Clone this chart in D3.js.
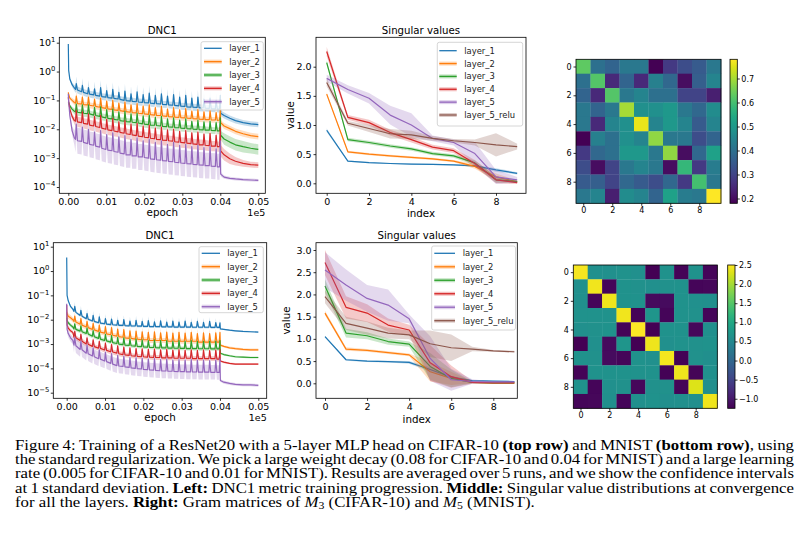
<!DOCTYPE html>
<html>
<head>
<meta charset="utf-8">
<script src="https://cdn.jsdelivr.net/npm/d3@7"></script>
<style>
  body { margin: 0; background: #fff; width: 810px; height: 535px; overflow: hidden; }
</style>
</head>
<body>
<svg id="fig" width="810" height="535"></svg>
<script>
// ---------- data ----------
var layerNames = ['layer_1', 'layer_2', 'layer_3', 'layer_4', 'layer_5'];
var svNames = ['layer_1', 'layer_2', 'layer_3', 'layer_4', 'layer_5', 'layer_5_relu'];

// epochs: start, 24 spikes (base, peak, base), the drop at 4000 and the tail
var epochs = [0, 10, 40, 100, 160,
  190, 210, 240, 350, 370, 400, 510, 530, 560, 670, 690, 720,
  830, 850, 880, 990, 1010, 1040, 1150, 1170, 1200, 1310, 1330, 1360,
  1470, 1490, 1520, 1630, 1650, 1680, 1790, 1810, 1840, 1950, 1970, 2000,
  2110, 2130, 2160, 2270, 2290, 2320, 2430, 2450, 2480, 2590, 2610, 2640,
  2750, 2770, 2800, 2910, 2930, 2960, 3070, 3090, 3120, 3230, 3250, 3280,
  3390, 3410, 3440, 3550, 3570, 3600, 3710, 3730, 3760, 3870, 3890, 3920,
  3980, 4000, 4010, 4100, 4250, 4400, 4600, 4800, 5000];
var epochTicks = [0, 1000, 2000, 3000, 4000, 5000];
var cifarLogTicks = [10, 1, 0.1, 0.01, 0.001, 0.0001];
var mnistLogTicks = [10, 1, 0.1, 0.01, 0.001, 0.0001, 0.00001];

// CIFAR-10 DNC1 (mean) per layer
var cifarDnc1 = [9, 1.1, 0.55, 0.35, 0.27,
  0.24, 0.38, 0.23, 0.2, 0.33, 0.19, 0.17, 0.28, 0.165, 0.155, 0.25, 0.15,
  0.14, 0.28, 0.135, 0.13, 0.22, 0.125, 0.12, 0.24, 0.117, 0.112, 0.19, 0.108,
  0.1, 0.21, 0.098, 0.095, 0.17, 0.093, 0.09, 0.2, 0.088, 0.086, 0.16, 0.084,
  0.082, 0.18, 0.08, 0.078, 0.15, 0.077, 0.075, 0.17, 0.073, 0.072, 0.14, 0.07,
  0.068, 0.16, 0.067, 0.065, 0.13, 0.063, 0.062, 0.15, 0.06, 0.059, 0.12, 0.058,
  0.057, 0.13, 0.056, 0.055, 0.11, 0.054, 0.053, 0.12, 0.052, 0.051, 0.1, 0.05,
  0.05, 0.15, 0.036, 0.03, 0.024, 0.02, 0.017, 0.0155, 0.0145];
var cifarDnc2 = [0.19, 0.16, 0.12, 0.1, 0.085,
  0.08, 0.14, 0.077, 0.075, 0.13, 0.072, 0.07, 0.13, 0.068, 0.064, 0.11, 0.062,
  0.058, 0.12, 0.056, 0.053, 0.095, 0.051, 0.049, 0.1, 0.047, 0.045, 0.08, 0.044,
  0.042, 0.088, 0.041, 0.039, 0.07, 0.038, 0.037, 0.078, 0.036, 0.035, 0.064, 0.034,
  0.033, 0.07, 0.032, 0.031, 0.056, 0.03, 0.03, 0.062, 0.029, 0.028, 0.05, 0.0275,
  0.027, 0.056, 0.0265, 0.026, 0.047, 0.0255, 0.025, 0.052, 0.0245, 0.024, 0.043, 0.0235,
  0.023, 0.048, 0.0225, 0.022, 0.04, 0.0215, 0.0215, 0.044, 0.021, 0.021, 0.038, 0.0205,
  0.021, 0.05, 0.017, 0.013, 0.0105, 0.0085, 0.007, 0.006, 0.0056];
var cifarDnc3 = [0.09, 0.085, 0.065, 0.05, 0.042,
  0.04, 0.075, 0.039, 0.037, 0.07, 0.036, 0.035, 0.07, 0.034, 0.031, 0.058, 0.03,
  0.028, 0.06, 0.027, 0.025, 0.048, 0.024, 0.023, 0.05, 0.022, 0.021, 0.04, 0.02,
  0.019, 0.042, 0.0185, 0.018, 0.034, 0.0175, 0.017, 0.036, 0.0165, 0.0155, 0.029, 0.015,
  0.0145, 0.031, 0.014, 0.0138, 0.026, 0.0135, 0.013, 0.028, 0.0127, 0.0124, 0.023, 0.012,
  0.0118, 0.025, 0.0115, 0.0113, 0.021, 0.011, 0.0108, 0.023, 0.0106, 0.0104, 0.019, 0.0102,
  0.01, 0.021, 0.0098, 0.0096, 0.018, 0.0094, 0.0093, 0.019, 0.0091, 0.009, 0.017, 0.0088,
  0.0088, 0.025, 0.0062, 0.0046, 0.0036, 0.0029, 0.0025, 0.0022, 0.002];
var cifarDnc4 = [0.13, 0.09, 0.05, 0.028, 0.02,
  0.019, 0.045, 0.018, 0.017, 0.04, 0.016, 0.015, 0.034, 0.014, 0.013, 0.028, 0.0125,
  0.0115, 0.03, 0.011, 0.01, 0.022, 0.0096, 0.009, 0.024, 0.0087, 0.0081, 0.018, 0.0078,
  0.0073, 0.02, 0.007, 0.0066, 0.015, 0.0064, 0.006, 0.016, 0.0058, 0.0055, 0.013, 0.0053,
  0.0051, 0.014, 0.0049, 0.0047, 0.011, 0.0045, 0.0044, 0.012, 0.0042, 0.0041, 0.0095, 0.004,
  0.0039, 0.01, 0.0037, 0.0036, 0.0085, 0.0035, 0.0034, 0.009, 0.0033, 0.0032, 0.0075, 0.0031,
  0.003, 0.008, 0.0029, 0.0029, 0.0068, 0.0028, 0.0027, 0.0072, 0.0026, 0.0026, 0.0062, 0.0025,
  0.0025, 0.012, 0.0018, 0.0013, 0.00095, 0.00078, 0.00066, 0.0006, 0.00057];
var cifarDnc5 = [0.17, 0.09, 0.03, 0.009, 0.005,
  0.0045, 0.015, 0.004, 0.0038, 0.012, 0.0035, 0.0032, 0.01, 0.003, 0.0028, 0.008, 0.0026,
  0.0024, 0.009, 0.0022, 0.002, 0.0065, 0.0019, 0.0018, 0.0075, 0.0017, 0.0016, 0.0055, 0.0015,
  0.0014, 0.006, 0.0013, 0.0013, 0.0045, 0.0012, 0.0012, 0.005, 0.0011, 0.0011, 0.004, 0.00105,
  0.001, 0.0045, 0.00095, 0.0009, 0.0035, 0.00088, 0.00085, 0.004, 0.00082, 0.0008, 0.003, 0.00077,
  0.00075, 0.0035, 0.00072, 0.0007, 0.0028, 0.00068, 0.00066, 0.003, 0.00064, 0.00063, 0.0025, 0.00061,
  0.0006, 0.0028, 0.00058, 0.00057, 0.0023, 0.00055, 0.00055, 0.0025, 0.00053, 0.00052, 0.0021, 0.0005,
  0.0005, 0.004, 0.00028, 0.00022, 0.0002, 0.00019, 0.00018, 0.000175, 0.00017];

// CIFAR-10 DNC1 band half width, in decades
var cifarSd1 = [0.02, 0.03, 0.05, 0.08, 0.1,
  0.12, 0.25, 0.12, 0.12, 0.25, 0.12, 0.12, 0.25, 0.12, 0.12, 0.25, 0.12,
  0.12, 0.25, 0.12, 0.12, 0.25, 0.12, 0.12, 0.25, 0.12, 0.12, 0.25, 0.12,
  0.12, 0.25, 0.12, 0.12, 0.25, 0.12, 0.12, 0.25, 0.12, 0.12, 0.25, 0.12,
  0.12, 0.25, 0.12, 0.12, 0.25, 0.12, 0.12, 0.25, 0.12, 0.12, 0.25, 0.12,
  0.12, 0.25, 0.12, 0.12, 0.25, 0.12, 0.12, 0.25, 0.12, 0.12, 0.25, 0.12,
  0.12, 0.25, 0.12, 0.12, 0.25, 0.12, 0.12, 0.25, 0.12, 0.12, 0.25, 0.12,
  0.12, 0.3, 0.1, 0.1, 0.1, 0.1, 0.09, 0.09, 0.09];
var cifarSd2 = [0.03, 0.04, 0.06, 0.08, 0.1,
  0.1, 0.2, 0.1, 0.1, 0.2, 0.1, 0.1, 0.2, 0.1, 0.1, 0.2, 0.1,
  0.1, 0.2, 0.1, 0.1, 0.2, 0.1, 0.1, 0.2, 0.1, 0.1, 0.2, 0.1,
  0.1, 0.2, 0.1, 0.1, 0.2, 0.1, 0.1, 0.2, 0.1, 0.1, 0.2, 0.1,
  0.1, 0.2, 0.1, 0.1, 0.2, 0.1, 0.1, 0.2, 0.1, 0.1, 0.2, 0.1,
  0.1, 0.2, 0.1, 0.1, 0.2, 0.1, 0.1, 0.2, 0.1, 0.1, 0.2, 0.1,
  0.1, 0.2, 0.1, 0.1, 0.2, 0.1, 0.1, 0.2, 0.1, 0.1, 0.2, 0.1,
  0.1, 0.25, 0.08, 0.1, 0.1, 0.1, 0.1, 0.1, 0.1];
var cifarSd3 = [0.03, 0.04, 0.06, 0.08, 0.1,
  0.12, 0.2, 0.12, 0.12, 0.2, 0.12, 0.12, 0.2, 0.12, 0.12, 0.2, 0.12,
  0.12, 0.2, 0.12, 0.12, 0.2, 0.12, 0.12, 0.2, 0.12, 0.12, 0.2, 0.12,
  0.12, 0.2, 0.12, 0.12, 0.2, 0.12, 0.12, 0.2, 0.12, 0.12, 0.2, 0.12,
  0.12, 0.2, 0.12, 0.12, 0.2, 0.12, 0.12, 0.2, 0.12, 0.12, 0.2, 0.12,
  0.12, 0.2, 0.12, 0.12, 0.2, 0.12, 0.12, 0.2, 0.12, 0.12, 0.2, 0.12,
  0.12, 0.2, 0.12, 0.12, 0.2, 0.12, 0.12, 0.2, 0.12, 0.12, 0.2, 0.12,
  0.12, 0.3, 0.15, 0.2, 0.2, 0.2, 0.2, 0.18, 0.18];
var cifarSd4 = [0.03, 0.05, 0.08, 0.1, 0.12,
  0.18, 0.25, 0.18, 0.18, 0.25, 0.18, 0.18, 0.25, 0.18, 0.18, 0.25, 0.18,
  0.18, 0.25, 0.18, 0.18, 0.25, 0.18, 0.18, 0.25, 0.18, 0.18, 0.25, 0.18,
  0.18, 0.25, 0.18, 0.18, 0.25, 0.18, 0.18, 0.25, 0.18, 0.18, 0.25, 0.18,
  0.18, 0.25, 0.18, 0.18, 0.25, 0.18, 0.18, 0.25, 0.18, 0.18, 0.25, 0.18,
  0.18, 0.25, 0.18, 0.18, 0.25, 0.18, 0.18, 0.25, 0.18, 0.18, 0.25, 0.18,
  0.18, 0.25, 0.18, 0.18, 0.25, 0.18, 0.18, 0.25, 0.18, 0.18, 0.25, 0.18,
  0.18, 0.35, 0.2, 0.2, 0.18, 0.15, 0.12, 0.1, 0.1];
var cifarSd5 = [0.03, 0.05, 0.1, 0.15, 0.25,
  0.45, 0.35, 0.45, 0.45, 0.35, 0.45, 0.45, 0.35, 0.45, 0.45, 0.35, 0.45,
  0.45, 0.35, 0.45, 0.45, 0.35, 0.45, 0.45, 0.35, 0.45, 0.45, 0.35, 0.45,
  0.45, 0.35, 0.45, 0.45, 0.35, 0.45, 0.45, 0.35, 0.45, 0.45, 0.35, 0.45,
  0.45, 0.35, 0.45, 0.45, 0.35, 0.45, 0.45, 0.35, 0.45, 0.45, 0.35, 0.45,
  0.45, 0.35, 0.45, 0.45, 0.35, 0.45, 0.45, 0.35, 0.45, 0.45, 0.35, 0.45,
  0.45, 0.35, 0.45, 0.45, 0.35, 0.45, 0.45, 0.35, 0.45, 0.45, 0.35, 0.45,
  0.45, 0.5, 0.08, 0.06, 0.05, 0.05, 0.05, 0.05, 0.05];

// MNIST DNC1 (mean) per layer
var mnistDnc1 = [3.6, 0.1, 0.06, 0.035, 0.027,
  0.022, 0.035, 0.02, 0.015, 0.024, 0.014, 0.011, 0.018, 0.0105, 0.0088, 0.015, 0.0085,
  0.0075, 0.013, 0.0072, 0.0068, 0.011, 0.0066, 0.0063, 0.0105, 0.0062, 0.006, 0.0095, 0.0059,
  0.0058, 0.01, 0.0057, 0.0056, 0.0088, 0.0055, 0.0055, 0.0095, 0.0054, 0.0054, 0.0085, 0.0053,
  0.0053, 0.0092, 0.0052, 0.0052, 0.0082, 0.0052, 0.0052, 0.009, 0.0051, 0.0051, 0.008, 0.0051,
  0.0051, 0.0088, 0.005, 0.005, 0.0079, 0.005, 0.005, 0.0087, 0.005, 0.005, 0.0078, 0.0049,
  0.0049, 0.0086, 0.0049, 0.0049, 0.0077, 0.0049, 0.0049, 0.0085, 0.0048, 0.0048, 0.0076, 0.0048,
  0.0048, 0.0075, 0.0042, 0.004, 0.0037, 0.0035, 0.0033, 0.0032, 0.0031];
var mnistDnc2 = [0.02, 0.017, 0.014, 0.012, 0.01,
  0.0085, 0.014, 0.008, 0.0065, 0.011, 0.006, 0.005, 0.0085, 0.0047, 0.004, 0.007, 0.0038,
  0.0033, 0.006, 0.0031, 0.0028, 0.0052, 0.0026, 0.0024, 0.0047, 0.0023, 0.0021, 0.0041, 0.002,
  0.0019, 0.0039, 0.0018, 0.0017, 0.0035, 0.0017, 0.0016, 0.0034, 0.0016, 0.0015, 0.0032, 0.0015,
  0.0015, 0.003, 0.0014, 0.0014, 0.0032, 0.0014, 0.0014, 0.0029, 0.0014, 0.0014, 0.0031, 0.0013,
  0.0013, 0.0028, 0.0013, 0.0013, 0.003, 0.0013, 0.0013, 0.0028, 0.0013, 0.0013, 0.003, 0.0013,
  0.0013, 0.0027, 0.0012, 0.0012, 0.0029, 0.0012, 0.0012, 0.0027, 0.0012, 0.0012, 0.0029, 0.0012,
  0.0012, 0.003, 0.0009, 0.0008, 0.0007, 0.00065, 0.0006, 0.00058, 0.00058];
var mnistDnc3 = [0.012, 0.009, 0.0075, 0.006, 0.005,
  0.0042, 0.0068, 0.004, 0.0034, 0.0056, 0.0032, 0.0027, 0.0045, 0.0026, 0.0021, 0.0036, 0.002,
  0.0017, 0.003, 0.0016, 0.0014, 0.0025, 0.00135, 0.0012, 0.0022, 0.00115, 0.00105, 0.0019, 0.001,
  0.00095, 0.0018, 0.0009, 0.00088, 0.0016, 0.00085, 0.00082, 0.0016, 0.0008, 0.00078, 0.0015, 0.00076,
  0.00075, 0.0014, 0.00073, 0.00072, 0.0015, 0.00071, 0.0007, 0.0014, 0.00069, 0.00069, 0.0014, 0.00068,
  0.00068, 0.0013, 0.00067, 0.00067, 0.0014, 0.00066, 0.00066, 0.0013, 0.00065, 0.00065, 0.0014, 0.00065,
  0.00065, 0.0013, 0.00064, 0.00064, 0.0013, 0.00064, 0.00064, 0.0013, 0.00063, 0.00063, 0.0013, 0.00063,
  0.00063, 0.0014, 0.00042, 0.00037, 0.00033, 0.0003, 0.00029, 0.00028, 0.00028];
var mnistDnc4 = [0.04, 0.006, 0.0045, 0.0035, 0.003,
  0.0019, 0.0033, 0.0018, 0.0014, 0.0025, 0.0013, 0.001, 0.0018, 0.00098, 0.0008, 0.0015, 0.00078,
  0.00068, 0.0013, 0.00066, 0.00057, 0.0011, 0.00055, 0.00048, 0.00095, 0.00047, 0.00042, 0.00085, 0.0004,
  0.00037, 0.00075, 0.00036, 0.00034, 0.0007, 0.00033, 0.00032, 0.00065, 0.00031, 0.0003, 0.00063, 0.0003,
  0.00029, 0.0006, 0.00029, 0.00028, 0.00062, 0.00028, 0.00028, 0.00058, 0.00027, 0.00027, 0.0006, 0.00027,
  0.00027, 0.00056, 0.00026, 0.00026, 0.00059, 0.00026, 0.00026, 0.00055, 0.00026, 0.00026, 0.00058, 0.00025,
  0.00025, 0.00055, 0.00025, 0.00025, 0.00057, 0.00025, 0.00025, 0.00054, 0.00025, 0.00025, 0.00056, 0.00024,
  0.00024, 0.0006, 0.0002, 0.00018, 0.00016, 0.00015, 0.00015, 0.00015, 0.00015];
var mnistDnc5 = [0.045, 0.004, 0.0027, 0.0018, 0.0014,
  0.0009, 0.0018, 0.00085, 0.0006, 0.0013, 0.00058, 0.00042, 0.0009, 0.0004, 0.00032, 0.0007, 0.0003,
  0.00025, 0.00058, 0.00024, 0.0002, 0.00046, 0.00019, 0.00016, 0.0004, 0.00015, 0.00013, 0.00034, 0.000125,
  0.00012, 0.00031, 0.000115, 0.00011, 0.00028, 0.000105, 0.0001, 0.00027, 0.000097, 0.000094, 0.00026, 0.00009,
  0.000088, 0.00024, 0.000086, 0.000084, 0.00025, 0.000082, 0.00008, 0.00023, 0.000079, 0.000078, 0.00024, 0.000077,
  0.000076, 0.00022, 0.000075, 0.000074, 0.00023, 0.000073, 0.000073, 0.00022, 0.000072, 0.000072, 0.00023, 0.000071,
  0.000071, 0.00022, 0.00007, 0.00007, 0.00022, 0.00007, 0.00007, 0.00021, 0.000069, 0.000069, 0.00022, 0.000068,
  0.000068, 0.00025, 0.000032, 0.000027, 0.000024, 0.000022, 0.000021, 0.000021, 0.00002];

// MNIST DNC1 band half width, in decades
var mnistSd1 = [0.02, 0.03, 0.04, 0.05, 0.05,
  0.05, 0.18, 0.05, 0.05, 0.18, 0.05, 0.05, 0.18, 0.05, 0.05, 0.18, 0.05,
  0.05, 0.18, 0.05, 0.05, 0.18, 0.05, 0.05, 0.18, 0.05, 0.05, 0.18, 0.05,
  0.05, 0.18, 0.05, 0.05, 0.18, 0.05, 0.05, 0.18, 0.05, 0.05, 0.18, 0.05,
  0.05, 0.18, 0.05, 0.05, 0.18, 0.05, 0.05, 0.18, 0.05, 0.05, 0.18, 0.05,
  0.05, 0.18, 0.05, 0.05, 0.18, 0.05, 0.05, 0.18, 0.05, 0.05, 0.18, 0.05,
  0.05, 0.18, 0.05, 0.05, 0.18, 0.05, 0.05, 0.18, 0.05, 0.05, 0.18, 0.05,
  0.05, 0.15, 0.03, 0.03, 0.03, 0.03, 0.03, 0.03, 0.03];
var mnistSd2 = [0.2, 0.15, 0.12, 0.1, 0.1,
  0.1, 0.2, 0.1, 0.1, 0.2, 0.1, 0.1, 0.2, 0.1, 0.1, 0.2, 0.1,
  0.1, 0.2, 0.1, 0.1, 0.2, 0.1, 0.1, 0.2, 0.1, 0.1, 0.2, 0.1,
  0.1, 0.2, 0.1, 0.1, 0.2, 0.1, 0.1, 0.2, 0.1, 0.1, 0.2, 0.1,
  0.1, 0.2, 0.1, 0.1, 0.2, 0.1, 0.1, 0.2, 0.1, 0.1, 0.2, 0.1,
  0.1, 0.2, 0.1, 0.1, 0.2, 0.1, 0.1, 0.2, 0.1, 0.1, 0.2, 0.1,
  0.1, 0.2, 0.1, 0.1, 0.2, 0.1, 0.1, 0.2, 0.1, 0.1, 0.2, 0.1,
  0.1, 0.2, 0.05, 0.05, 0.05, 0.05, 0.05, 0.05, 0.05];
var mnistSd3 = [0.1, 0.1, 0.08, 0.08, 0.08,
  0.08, 0.18, 0.08, 0.08, 0.18, 0.08, 0.08, 0.18, 0.08, 0.08, 0.18, 0.08,
  0.08, 0.18, 0.08, 0.08, 0.18, 0.08, 0.08, 0.18, 0.08, 0.08, 0.18, 0.08,
  0.08, 0.18, 0.08, 0.08, 0.18, 0.08, 0.08, 0.18, 0.08, 0.08, 0.18, 0.08,
  0.08, 0.18, 0.08, 0.08, 0.18, 0.08, 0.08, 0.18, 0.08, 0.08, 0.18, 0.08,
  0.08, 0.18, 0.08, 0.08, 0.18, 0.08, 0.08, 0.18, 0.08, 0.08, 0.18, 0.08,
  0.08, 0.18, 0.08, 0.08, 0.18, 0.08, 0.08, 0.18, 0.08, 0.08, 0.18, 0.08,
  0.08, 0.2, 0.04, 0.04, 0.04, 0.04, 0.04, 0.04, 0.04];
var mnistSd4 = [0.1, 0.1, 0.1, 0.08, 0.08,
  0.1, 0.2, 0.1, 0.1, 0.2, 0.1, 0.1, 0.2, 0.1, 0.1, 0.2, 0.1,
  0.1, 0.2, 0.1, 0.1, 0.2, 0.1, 0.1, 0.2, 0.1, 0.1, 0.2, 0.1,
  0.1, 0.2, 0.1, 0.1, 0.2, 0.1, 0.1, 0.2, 0.1, 0.1, 0.2, 0.1,
  0.1, 0.2, 0.1, 0.1, 0.2, 0.1, 0.1, 0.2, 0.1, 0.1, 0.2, 0.1,
  0.1, 0.2, 0.1, 0.1, 0.2, 0.1, 0.1, 0.2, 0.1, 0.1, 0.2, 0.1,
  0.1, 0.2, 0.1, 0.1, 0.2, 0.1, 0.1, 0.2, 0.1, 0.1, 0.2, 0.1,
  0.1, 0.2, 0.04, 0.04, 0.04, 0.04, 0.04, 0.04, 0.04];
var mnistSd5 = [0.1, 0.15, 0.15, 0.15, 0.15,
  0.3, 0.3, 0.3, 0.3, 0.3, 0.3, 0.3, 0.3, 0.3, 0.3, 0.3, 0.3,
  0.3, 0.3, 0.3, 0.3, 0.3, 0.3, 0.3, 0.3, 0.3, 0.3, 0.3, 0.3,
  0.3, 0.3, 0.3, 0.3, 0.3, 0.3, 0.3, 0.3, 0.3, 0.3, 0.3, 0.3,
  0.3, 0.3, 0.3, 0.3, 0.3, 0.3, 0.3, 0.3, 0.3, 0.3, 0.3, 0.3,
  0.3, 0.3, 0.3, 0.3, 0.3, 0.3, 0.3, 0.3, 0.3, 0.3, 0.3, 0.3,
  0.3, 0.3, 0.3, 0.3, 0.3, 0.3, 0.3, 0.3, 0.3, 0.3, 0.3, 0.3,
  0.3, 0.4, 0.06, 0.06, 0.06, 0.06, 0.06, 0.06, 0.06];

// singular values, index 0..9
var svIndex = [0, 1, 2, 3, 4, 5, 6, 7, 8, 9];
var svXTicks = [0, 2, 4, 6, 8];
var cifarSvTicks = [0, 0.5, 1, 1.5, 2];
var mnistSvTicks = [0, 0.5, 1, 1.5, 2, 2.5, 3];

var cifarSv1 = [0.91, 0.38, 0.355, 0.34, 0.33, 0.325, 0.315, 0.3, 0.23, 0.17];
var cifarSv2 = [1.53, 0.54, 0.5, 0.47, 0.445, 0.42, 0.38, 0.29, 0.11, 0.03];
var cifarSv3 = [2.07, 0.75, 0.7, 0.64, 0.59, 0.51, 0.47, 0.35, 0.06, 0.03];
var cifarSv4 = [2.26, 1.13, 1.04, 0.87, 0.75, 0.62, 0.56, 0.34, 0.06, 0.01];
var cifarSv5 = [1.8, 1.61, 1.46, 1.17, 1.0, 0.77, 0.7, 0.51, 0.11, 0.06];
var cifarSv6 = [1.73, 1.03, 0.94, 0.85, 0.83, 0.77, 0.73, 0.7, 0.66, 0.63];
var cifarSvSd1 = [0.03, 0.01, 0.01, 0.01, 0.01, 0.01, 0.01, 0.02, 0.03, 0.02];
var cifarSvSd2 = [0.03, 0.02, 0.02, 0.02, 0.02, 0.02, 0.02, 0.04, 0.06, 0.02];
var cifarSvSd3 = [0.04, 0.03, 0.03, 0.03, 0.03, 0.03, 0.03, 0.04, 0.05, 0.02];
var cifarSvSd4 = [0.08, 0.04, 0.05, 0.05, 0.05, 0.04, 0.04, 0.06, 0.06, 0.02];
var cifarSvSd5 = [0.06, 0.07, 0.09, 0.16, 0.2, 0.05, 0.05, 0.2, 0.12, 0.05];
var cifarSvSd6 = [0.07, 0.04, 0.06, 0.08, 0.07, 0.04, 0.03, 0.05, 0.2, 0.05];

var mnistSv1 = [1.05, 0.53, 0.5, 0.49, 0.47, 0.31, 0.14, 0.06, 0.05, 0.04];
var mnistSv2 = [1.58, 0.77, 0.74, 0.69, 0.64, 0.26, 0.11, 0.02, 0.01, 0.01];
var mnistSv3 = [2.19, 1.13, 1.07, 0.94, 0.88, 0.38, 0.11, 0.02, 0.01, 0.01];
var mnistSv4 = [2.72, 1.71, 1.58, 1.31, 1.2, 0.46, 0.15, 0.02, 0.01, 0.01];
var mnistSv5 = [2.55, 2.21, 1.91, 1.76, 1.45, 0.56, 0.08, 0.04, 0.03, 0.03];
var mnistSv6 = [1.95, 1.35, 1.24, 1.13, 1.09, 0.89, 0.8, 0.77, 0.73, 0.71];
var mnistSvSd1 = [0.02, 0.02, 0.02, 0.02, 0.03, 0.05, 0.03, 0.01, 0.01, 0.01];
var mnistSvSd2 = [0.05, 0.04, 0.03, 0.03, 0.03, 0.22, 0.15, 0.02, 0.01, 0.01];
var mnistSvSd3 = [0.15, 0.1, 0.08, 0.07, 0.06, 0.3, 0.2, 0.02, 0.01, 0.01];
var mnistSvSd4 = [0.28, 0.25, 0.2, 0.15, 0.12, 0.4, 0.25, 0.03, 0.01, 0.01];
var mnistSvSd5 = [0.4, 0.35, 0.3, 0.35, 0.1, 0.5, 0.25, 0.05, 0.01, 0.01];
var mnistSvSd6 = [0.15, 0.15, 0.15, 0.12, 0.1, 0.3, 0.3, 0.05, 0.02, 0.02];

// Gram matrices
var gramTicks = [0, 2, 4, 6, 8];
var cifarGramBarTicks = [0.2, 0.3, 0.4, 0.5, 0.6, 0.7];
var mnistGramBarTicks = [-1.0, -0.5, 0.0, 0.5, 1.0, 1.5, 2.0, 2.5];
var cifarGram = [
  [0.63, 0.40, 0.37, 0.42, 0.42, 0.18, 0.28, 0.32, 0.35, 0.42],
  [0.40, 0.62, 0.25, 0.37, 0.25, 0.44, 0.38, 0.20, 0.36, 0.45],
  [0.37, 0.25, 0.62, 0.42, 0.45, 0.40, 0.40, 0.30, 0.30, 0.23],
  [0.42, 0.37, 0.42, 0.70, 0.48, 0.48, 0.50, 0.42, 0.38, 0.47],
  [0.42, 0.25, 0.45, 0.48, 0.76, 0.45, 0.50, 0.45, 0.35, 0.45],
  [0.18, 0.44, 0.40, 0.48, 0.45, 0.68, 0.42, 0.42, 0.32, 0.37],
  [0.28, 0.38, 0.40, 0.50, 0.50, 0.42, 0.68, 0.20, 0.38, 0.52],
  [0.32, 0.20, 0.30, 0.42, 0.45, 0.42, 0.20, 0.58, 0.28, 0.43],
  [0.35, 0.36, 0.30, 0.38, 0.35, 0.32, 0.38, 0.28, 0.60, 0.42],
  [0.42, 0.45, 0.23, 0.47, 0.45, 0.37, 0.52, 0.43, 0.42, 0.78]
];
var mnistGram = [
  [2.45, 0.62, 0.62, 0.64, 0.62, -1.25, 0.66, -1.22, 0.65, -1.2],
  [0.62, 2.42, -1.2, 0.64, 0.63, 0.62, 0.63, 0.65, -1.2, -1.18],
  [0.62, -1.2, 2.4, 0.65, 0.64, -1.15, -1.14, 0.64, 0.62, 0.6],
  [0.64, 0.64, 0.65, 2.42, -1.22, 0.7, -1.2, 0.64, 0.63, -1.2],
  [0.62, 0.63, 0.64, -1.22, 2.5, -1.24, 0.66, 0.65, -1.18, 0.62],
  [-1.25, 0.62, -1.15, 0.7, -1.24, 2.4, 0.62, 0.64, 0.63, 0.64],
  [0.66, 0.63, -1.14, -1.2, 0.66, 0.62, 2.44, -1.23, 0.63, 0.6],
  [-1.22, 0.65, 0.64, 0.64, 0.65, 0.64, -1.23, 2.4, -1.21, 0.62],
  [0.65, -1.2, 0.62, 0.63, -1.18, 0.63, 0.63, -1.21, 2.3, 0.61],
  [-1.2, -1.18, 0.6, -1.2, 0.62, 0.64, 0.6, 0.62, 0.61, 2.4]
];

// caption, one entry per printed line
var captionLines = [
  [{ t: 'Figure 4: Training of a ResNet20 with a 5-layer MLP head on CIFAR-10 ' }, { t: '(top row)', b: true },
   { t: ' and MNIST ' }, { t: '(bottom row)', b: true }, { t: ', using' }],
  [{ t: 'the standard regularization. We pick a large weight decay (0.08 for CIFAR-10 and 0.04 for MNIST) and a large learning' }],
  [{ t: 'rate (0.005 for CIFAR-10 and 0.01 for MNIST). Results are averaged over 5 runs, and we show the confidence intervals' }],
  [{ t: 'at 1 standard deviation. ' }, { t: 'Left:', b: true }, { t: ' DNC1 metric training progression. ' },
   { t: 'Middle:', b: true }, { t: ' Singular value distributions at convergence' }],
  [{ t: 'for all the layers. ' }, { t: 'Right:', b: true }, { t: ' Gram matrices of ' }, { t: 'M', i: true }, { t: '3', sub: true },
   { t: ' (CIFAR-10) and ' }, { t: 'M', i: true }, { t: '5', sub: true }, { t: ' (MNIST).' }]
];

// ---------- drawing ----------
var svg = d3.select('#fig');
var font = 'DejaVu Sans';
var colors = ['#1f77b4', '#ff7f0e', '#2ca02c', '#d62728', '#9467bd', '#8c564b'];
var clipCount = 0;

function frame(g, b) {
    g.append('rect')
        .attr('x', b.x0).attr('y', b.y0)
        .attr('width', b.x1 - b.x0).attr('height', b.y1 - b.y0)
        .attr('fill', 'none').attr('stroke', '#000').attr('stroke-width', 0.8);
}

function styleAxis(sel, size) {
    sel.select('.domain').remove();
    sel.selectAll('.tick line').attr('stroke', '#000').attr('stroke-width', 0.8);
    sel.selectAll('.tick text').attr('font-family', font).attr('font-size', size).attr('fill', '#000');
}

function legend(g, L, names) {
    g.append('rect')
        .attr('x', L.x0).attr('y', L.y0)
        .attr('width', L.x1 - L.x0).attr('height', L.y1 - L.y0)
        .attr('rx', 2).attr('fill', '#fff').attr('fill-opacity', 0.8)
        .attr('stroke', '#ccc').attr('stroke-width', 0.8);
    names.forEach(function (n, i) {
        var y = L.row0 + i * L.step;
        if (i > 0) {
            g.append('line')
                .attr('x1', L.lx0).attr('x2', L.lx1).attr('y1', y).attr('y2', y)
                .attr('stroke', colors[i]).attr('stroke-opacity', 0.3).attr('stroke-width', 4);
        }
        g.append('line')
            .attr('x1', L.lx0).attr('x2', L.lx1).attr('y1', y).attr('y2', y)
            .attr('stroke', colors[i]).attr('stroke-width', 1.3);
        g.append('text')
            .attr('x', L.tx).attr('y', y + 3)
            .attr('font-family', font).attr('font-size', 8.4).attr('fill', '#222')
            .text(n);
    });
}

function linePanel(cfg) {
    var g = svg.append('g');
    var b = cfg.box;
    var id = 'clip' + (clipCount++);
    g.append('clipPath').attr('id', id).append('rect')
        .attr('x', b.x0).attr('y', b.y0).attr('width', b.x1 - b.x0).attr('height', b.y1 - b.y0);
    var plot = g.append('g').attr('clip-path', 'url(#' + id + ')');

    cfg.series.forEach(function (s, i) {
        var area = d3.area()
            .x(function (d, j) { return cfg.x(cfg.xs[j]); })
            .y0(function (d, j) { return cfg.y(s.lo[j]); })
            .y1(function (d, j) { return cfg.y(s.hi[j]); });
        var line = d3.line()
            .x(function (d, j) { return cfg.x(cfg.xs[j]); })
            .y(function (d) { return cfg.y(d); });
        plot.append('path').datum(s.mean).attr('d', area)
            .attr('fill', colors[i]).attr('fill-opacity', 0.25).attr('stroke', 'none');
        plot.append('path').datum(s.mean).attr('d', line)
            .attr('fill', 'none').attr('stroke', colors[i]).attr('stroke-width', 1.2)
            .attr('stroke-linejoin', 'round');
    });

    frame(g, b);

    // x axis
    var xa = g.append('g').attr('transform', 'translate(0,' + b.y1 + ')')
        .call(d3.axisBottom(cfg.x).tickValues(cfg.xTicks).tickFormat(cfg.xFormat)
            .tickSizeInner(2.5).tickSizeOuter(0).tickPadding(2));
    styleAxis(xa, 9.5);

    // y axis
    var ya = g.append('g').attr('transform', 'translate(' + b.x0 + ',0)')
        .call(d3.axisLeft(cfg.y).tickValues(cfg.yTicks)
            .tickFormat(cfg.log ? function () { return ''; } : d3.format('.1f'))
            .tickSizeInner(2.5).tickSizeOuter(0).tickPadding(2));
    styleAxis(ya, 9.5);
    if (cfg.log) {
        g.selectAll('text.logtick').data(cfg.yTicks).join('text')
            .attr('class', 'logtick')
            .attr('x', b.x0 - 4).attr('y', function (d) { return cfg.y(d) + 3.4; })
            .attr('text-anchor', 'end')
            .attr('font-family', font).attr('font-size', 9.5).attr('fill', '#000')
            .each(function (d) {
                var e = Math.round(Math.log10(d));
                var t = d3.select(this);
                t.append('tspan').text('10');
                t.append('tspan').attr('dy', -4).attr('font-size', 6.8)
                    .text(e < 0 ? '\u2212' + (-e) : String(e));
            });
    }

    // title and labels
    g.append('text').attr('x', (b.x0 + b.x1) / 2).attr('y', cfg.titleY)
        .attr('text-anchor', 'middle').attr('font-family', font).attr('font-size', 10.2)
        .text(cfg.title);
    g.append('text').attr('x', (b.x0 + b.x1) / 2).attr('y', cfg.xLabelY)
        .attr('text-anchor', 'middle').attr('font-family', font).attr('font-size', 10.3)
        .text(cfg.xLabel);
    if (cfg.offset) {
        g.append('text').attr('x', b.x1).attr('y', cfg.xLabelY)
            .attr('text-anchor', 'end').attr('font-family', font).attr('font-size', 9.5)
            .text(cfg.offset);
    }
    if (cfg.yLabel) {
        g.append('text')
            .attr('transform', 'translate(' + cfg.yLabelX + ',' + (b.y0 + b.y1) / 2 + ') rotate(-90)')
            .attr('text-anchor', 'middle').attr('dominant-baseline', 'central')
            .attr('font-family', font).attr('font-size', 10.3)
            .text(cfg.yLabel);
    }
    legend(g, cfg.legend, cfg.names);
}

function logSeries(means, sds) {
    return means.map(function (m, i) {
        return {
            mean: m,
            lo: m.map(function (v, j) { return v / Math.pow(10, sds[i][j]); }),
            hi: m.map(function (v, j) { return v * Math.pow(10, sds[i][j]); })
        };
    });
}

function linSeries(means, sds) {
    return means.map(function (m, i) {
        return {
            mean: m,
            lo: m.map(function (v, j) { return v - sds[i][j]; }),
            hi: m.map(function (v, j) { return v + sds[i][j]; })
        };
    });
}

function epochFormat(d) { return (d / 1e5).toFixed(2); }

// Top-left: CIFAR-10 DNC1
linePanel({
    box: { x0: 59.3, x1: 265.3, y0: 37.3, y1: 193.3 },
    x: d3.scaleLinear().domain([0, 5000]).range([68.3, 258.3]),
    y: d3.scaleLog().domain([10, 1e-4]).range([42.7, 187]),
    xs: epochs, xTicks: epochTicks, xFormat: epochFormat,
    yTicks: cifarLogTicks, log: true,
    series: logSeries([cifarDnc1, cifarDnc2, cifarDnc3, cifarDnc4, cifarDnc5],
        [cifarSd1, cifarSd2, cifarSd3, cifarSd4, cifarSd5]),
    names: layerNames,
    title: 'DNC1', titleY: 34.3, xLabel: 'epoch', xLabelY: 216, offset: '1e5',
    legend: { x0: 201, x1: 263.3, y0: 41.7, y1: 110, row0: 48.3, step: 13.35, lx0: 204, lx1: 221.7, tx: 229.3 }
});

// Bottom-left: MNIST DNC1
linePanel({
    box: { x0: 53.3, x1: 266.7, y0: 242.7, y1: 398.3 },
    x: d3.scaleLinear().domain([0, 5000]).range([66.7, 258.3]),
    y: d3.scaleLog().domain([10, 1e-5]).range([246.7, 392.7]),
    xs: epochs, xTicks: epochTicks, xFormat: epochFormat,
    yTicks: mnistLogTicks, log: true,
    series: logSeries([mnistDnc1, mnistDnc2, mnistDnc3, mnistDnc4, mnistDnc5],
        [mnistSd1, mnistSd2, mnistSd3, mnistSd4, mnistSd5]),
    names: layerNames,
    title: 'DNC1', titleY: 239, xLabel: 'epoch', xLabelY: 421, offset: '1e5',
    legend: { x0: 199, x1: 263.3, y0: 246.7, y1: 312.7, row0: 253.3, step: 13.35, lx0: 201.7, lx1: 220, tx: 227.3 }
});

// Top-middle: CIFAR-10 singular values
linePanel({
    box: { x0: 316, x1: 526, y0: 37.3, y1: 193.3 },
    x: d3.scaleLinear().domain([0, 8]).range([326.7, 496]),
    y: d3.scaleLinear().domain([0, 2]).range([183.3, 66.7]),
    xs: svIndex, xTicks: svXTicks, xFormat: d3.format('d'),
    yTicks: cifarSvTicks, log: false,
    series: linSeries([cifarSv1, cifarSv2, cifarSv3, cifarSv4, cifarSv5, cifarSv6],
        [cifarSvSd1, cifarSvSd2, cifarSvSd3, cifarSvSd4, cifarSvSd5, cifarSvSd6]),
    names: svNames,
    title: 'Singular values', titleY: 34.3, xLabel: 'index', xLabelY: 216.5,
    yLabel: 'value', yLabelX: 290,
    legend: { x0: 437.3, x1: 522.7, y0: 42.3, y1: 126, row0: 50.7, step: 12.86, lx0: 439.3, lx1: 456.7, tx: 464.3 }
});

// Bottom-middle: MNIST singular values
linePanel({
    box: { x0: 316, x1: 517.3, y0: 242.7, y1: 398.3 },
    x: d3.scaleLinear().domain([0, 8]).range([325, 493.3]),
    y: d3.scaleLinear().domain([0, 3]).range([383.3, 250]),
    xs: svIndex, xTicks: svXTicks, xFormat: d3.format('d'),
    yTicks: mnistSvTicks, log: false,
    series: linSeries([mnistSv1, mnistSv2, mnistSv3, mnistSv4, mnistSv5, mnistSv6],
        [mnistSvSd1, mnistSvSd2, mnistSvSd3, mnistSvSd4, mnistSvSd5, mnistSvSd6]),
    names: svNames,
    title: 'Singular values', titleY: 239, xLabel: 'index', xLabelY: 422.5,
    yLabel: 'value', yLabelX: 286,
    legend: { x0: 431.7, x1: 515.5, y0: 246, y1: 330, row0: 253.3, step: 13.48, lx0: 434.3, lx1: 455, tx: 462.7 }
});

function gramPanel(cfg) {
    var g = svg.append('g');
    var b = cfg.box, c = cfg.bar;
    var flat = [];
    cfg.matrix.forEach(function (row, i) {
        row.forEach(function (v, j) { flat.push({ i: i, j: j, v: v }); });
    });
    var ext = d3.extent(flat, function (d) { return d.v; });
    var color = d3.scaleSequential(d3.interpolateViridis).domain(ext);
    var sx = d3.scaleLinear().domain([-0.5, 9.5]).range([b.x0, b.x1]);
    var sy = d3.scaleLinear().domain([-0.5, 9.5]).range([b.y0, b.y1]);

    g.selectAll('rect.cell').data(flat).join('rect')
        .attr('class', 'cell')
        .attr('x', function (d) { return sx(d.j - 0.5); })
        .attr('y', function (d) { return sy(d.i - 0.5); })
        .attr('width', function (d) { return sx(d.j + 0.5) - sx(d.j - 0.5) + 0.3; })
        .attr('height', function (d) { return sy(d.i + 0.5) - sy(d.i - 0.5) + 0.3; })
        .attr('fill', function (d) { return color(d.v); });
    frame(g, b);

    var xa = g.append('g').attr('transform', 'translate(0,' + b.y1 + ')')
        .call(d3.axisBottom(sx).tickValues(gramTicks).tickFormat(d3.format('d'))
            .tickSizeInner(2.5).tickSizeOuter(0).tickPadding(2));
    styleAxis(xa, 8);
    var ya = g.append('g').attr('transform', 'translate(' + b.x0 + ',0)')
        .call(d3.axisLeft(sy).tickValues(gramTicks).tickFormat(d3.format('d'))
            .tickSizeInner(2.5).tickSizeOuter(0).tickPadding(2));
    styleAxis(ya, 8);

    // colorbar
    var gid = 'grad' + (clipCount++);
    var grad = svg.append('defs').append('linearGradient').attr('id', gid)
        .attr('x1', 0).attr('x2', 0).attr('y1', 1).attr('y2', 0);
    d3.range(0, 1.0001, 0.05).forEach(function (t) {
        grad.append('stop').attr('offset', t).attr('stop-color', d3.interpolateViridis(t));
    });
    g.append('rect').attr('x', c.x0).attr('y', c.y0)
        .attr('width', c.x1 - c.x0).attr('height', c.y1 - c.y0)
        .attr('fill', 'url(#' + gid + ')');
    frame(g, c);
    var cs = d3.scaleLinear().domain(ext).range([c.y1, c.y0]);
    var ca = g.append('g').attr('transform', 'translate(' + c.x1 + ',0)')
        .call(d3.axisRight(cs).tickValues(cfg.barTicks).tickFormat(d3.format('.1f'))
            .tickSizeInner(2.5).tickSizeOuter(0).tickPadding(1.5));
    styleAxis(ca, 8);
}

gramPanel({
    box: { x0: 576, x1: 721, y0: 59.3, y1: 203.3 },
    bar: { x0: 730, x1: 737.3, y0: 59.3, y1: 203.3 },
    matrix: cifarGram, barTicks: cifarGramBarTicks
});
gramPanel({
    box: { x0: 573.3, x1: 717.3, y0: 265, y1: 408.3 },
    bar: { x0: 727.7, x1: 735, y0: 265, y1: 408.3 },
    matrix: mnistGram, barTicks: mnistGramBarTicks
});

// caption: serif lines, justified to the text block by word spacing
var capLeft = 15, capWidth = 779, capBase = 450, capStep = 14.2;
captionLines.forEach(function (segs, li) {
    var t = svg.append('text')
        .attr('transform', 'translate(' + capLeft + ',' + (capBase + li * capStep) + ') scale(1,0.86)')
        .attr('font-family', 'Liberation Serif, Times New Roman, serif')
        .attr('font-size', 16.8).attr('fill', '#000');
    var shift = 0;
    segs.forEach(function (s) {
        var sp = t.append('tspan').text(s.t);
        if (s.b) sp.attr('font-weight', 'bold');
        if (s.i) sp.attr('font-style', 'italic');
        if (s.sub) {
            sp.attr('font-size', 11.8).attr('dy', 3);
            shift = -3;
        } else if (shift) {
            sp.attr('dy', shift);
            shift = 0;
        }
    });
    if (li < captionLines.length - 1) {
        var len = t.node().getComputedTextLength();
        var spaces = segs.map(function (s) { return s.t; }).join('').split(' ').length - 1;
        t.attr('word-spacing', (capWidth - len) / spaces);
    }
});
</script>
</body>
</html>
